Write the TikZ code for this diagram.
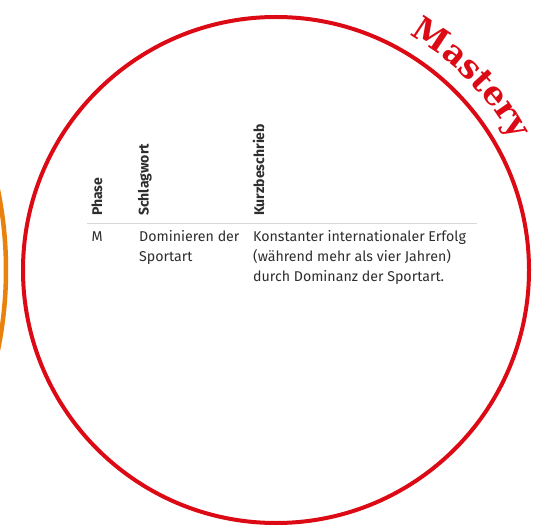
\documentclass[tikz,border=0pt]{standalone}
\usepackage{fontspec}
\setmainfont{Fira Sans}
\newfontfamily\masteryfont{DejaVu Serif}
\usetikzlibrary{decorations.text,calc}
\definecolor{ringred}{HTML}{DC0A14}
\definecolor{ringorange}{HTML}{E8820C}
\definecolor{txt}{HTML}{2E2E2E}
\definecolor{rulegrey}{HTML}{D8D8D8}
\newcommand{\cellfont}{\fontsize{14.2}{20}\selectfont}
\tikzset{
  hdr/.style={rotate=90, anchor=base west, inner sep=0pt, text=txt, font=\fontsize{14}{16}\selectfont\bfseries},
  cell/.style={anchor=base west, inner sep=0pt, text=txt, font=\cellfont},
}
\begin{document}
\begin{tikzpicture}[x=1pt,y=1pt]
\useasboundingbox (0,0) rectangle (538,528);
\clip (0,0) rectangle (538,528);
\fill[white] (0,0) rectangle (538,528);
% orange neighbour ring
\draw[ringorange, line width=4.5pt] (-394,258) circle[radius=400];
% red ring
\coordinate (c) at (276,258);
\draw[ringred, line width=4pt] (c) circle[radius=253];
% Mastery label along the ring
\path[decorate, decoration={text along path, text align=center,
  text={|\masteryfont\bfseries\fontsize{33}{33}\selectfont\color{ringred}|Mastery}}]
  ($(c)+(62:270)$) arc[start angle=62, end angle=27, radius=270];
% table headers
\node[hdr] (hphase) at (102,312) {Phase};
\node[hdr] (hschlag) at (148.5,312) {Schlagwort};
\node[hdr] (hkurz) at (264,312) {Kurzbeschrieb};
% rule
\coordinate (rl) at (87,305);
\coordinate (rr) at (477,305);
\draw[rulegrey, line width=0.8pt] (rl) -- (rr);
% row
\node[cell] (phase) at (91.5,286.3) {M};
\node[cell] (schlag) at (139,286.3) {\begin{tabular}[t]{@{}l@{}}Dominieren der\\Sportart\end{tabular}};
\node[cell] (kurz) at (253,286.3) {\begin{tabular}[t]{@{}l@{}}Konstanter internationaler Erfolg\\(während mehr als vier Jahren)\\durch Dominanz der Sportart.\end{tabular}};
\end{tikzpicture}
\end{document}
